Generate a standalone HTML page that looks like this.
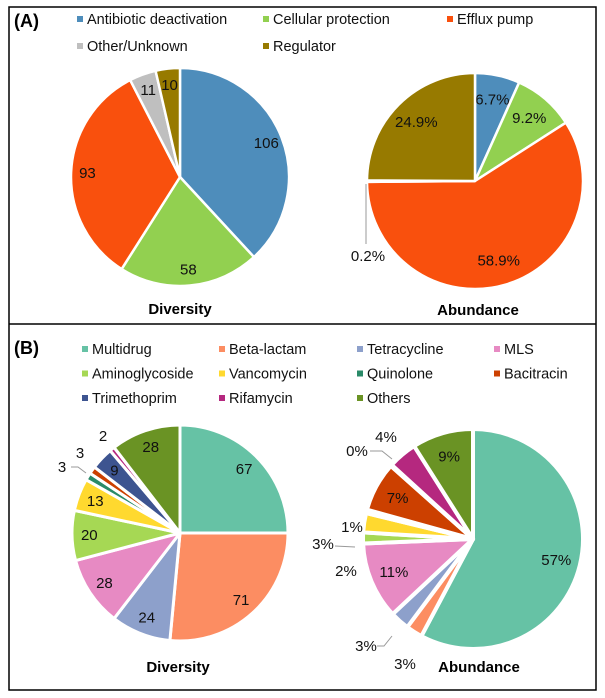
<!DOCTYPE html>
<html><head><meta charset="utf-8"><style>
body{margin:0;background:#fff}
svg{display:block;font-family:"Liberation Sans",Arial,sans-serif}
</style></head><body>
<svg id="fig" width="605" height="698" viewBox="0 0 605 698">
<rect x="9" y="7" width="587" height="683" fill="none" stroke="#000" stroke-width="1.5"/>
<line x1="9" y1="324" x2="596" y2="324" stroke="#000" stroke-width="1.5"/>
<text x="14" y="27" font-size="18" font-weight="bold">(A)</text>
<text x="14" y="354" font-size="18" font-weight="bold">(B)</text>
<g id="legA"></g>
<g id="legB"></g>
<g id="pies"></g>
<text x="180" y="314" font-size="15" font-weight="bold" text-anchor="middle">Diversity</text>
<text x="478" y="315" font-size="15" font-weight="bold" text-anchor="middle">Abundance</text>
<text x="178" y="672" font-size="15" font-weight="bold" text-anchor="middle">Diversity</text>
<text x="479" y="672" font-size="15" font-weight="bold" text-anchor="middle">Abundance</text>
</svg>
<script>
const catsA = ["Antibiotic deactivation","Cellular protection","Efflux pump","Other/Unknown","Regulator"];
const colorsA = ["#4e8dbb","#92d050","#f9500d","#bfbfbf","#977a00"];
const divA = [106,58,93,11,10];
const abuA = [6.7,9.2,58.9,0.2,24.9];
const abuALabels = ["6.7%","9.2%","58.9%","0.2%","24.9%"];
const catsB = ["Multidrug","Beta-lactam","Tetracycline","MLS","Aminoglycoside","Vancomycin","Quinolone","Bacitracin","Trimethoprim","Rifamycin","Others"];
const colorsB = ["#66c2a5","#fc8d62","#8da0cb","#e78ac3","#a6d854","#ffd92f","#2a8a68","#cc4000","#3d5490","#b5287f","#6a9324"];
const divB = [67,71,24,28,20,13,3,3,9,2,28];
const abuB = [57.2,2.4,2.8,11.2,1.6,2.8,0.5,7.2,0.2,4.2,8.9];
const abuBLabels = ["57%","3%","3%","11%","2%","3%","1%","7%","0%","4%","9%"];

const NS="http://www.w3.org/2000/svg";
function mk(tag,attrs,parent){const e=document.createElementNS(NS,tag);for(const k in attrs)e.setAttribute(k,attrs[k]);parent.appendChild(e);return e;}

// legends
const legA=document.getElementById('legA');
const legAx=[77,263,447];
catsA.forEach((c,i)=>{
  const x=legAx[i%3], y=21+Math.floor(i/3)*27;
  const r=mk('rect',{x:x,y:y-5,width:6,height:6,fill:colorsA[i]},legA);
  
  
  const t=mk('text',{x:x+10,y:y+3,'font-size':14.5,fill:'#111'},legA);
  t.textContent=c;
  
  
});
const legB=document.getElementById('legB');
const legBx=[82,219,357,494];
catsB.forEach((c,i)=>{
  const x=legBx[i%4], y=351+Math.floor(i/4)*24.5;
  const r=mk('rect',{x:x,y:y-5,width:6,height:6,fill:colorsB[i]},legB);
  
  
  const t=mk('text',{x:x+10,y:y+3,'font-size':14.5,fill:'#111'},legB);
  t.textContent=c;
  
  
});

const pies=document.getElementById('pies');
function pt(cx,cy,r,a){return [cx+r*Math.sin(a),cy-r*Math.cos(a)];}
function drawPie(name,vals,colors,labels,cx,cy,R,k,gap,outside){
  const g=mk('g',{},pies);
  
  
  const tot=vals.reduce((a,b)=>a+b,0);
  let a0=0;
  vals.forEach((v,i)=>{
    const a1=a0+v/tot*2*Math.PI;
    const p0=pt(cx,cy,R,a0),p1=pt(cx,cy,R,a1);
    const large=(a1-a0)>Math.PI?1:0;
    const p=mk('path',{d:`M${cx},${cy}L${p0[0]},${p0[1]}A${R},${R} 0 ${large} 1 ${p1[0]},${p1[1]}Z`,fill:colors[i],stroke:'#fff','stroke-width':gap,'stroke-linejoin':'round'},g);
    
    
    if(!outside[i]){
      const m=(a0+a1)/2;const q=pt(cx,cy,R*k,m);
      const t=mk('text',{x:q[0],y:q[1]+5,'font-size':15,'text-anchor':'middle',fill:'#111'},g);
      t.textContent=labels[i];
      
      
    }
    a0=a1;
  });
}
drawPie('a-diversity-pie',divA,colorsA,divA.map(String),180,177,109,0.85,2.5,[0,0,0,0,0]);
drawPie('a-abundance-pie',abuA,colorsA,abuALabels,475,181,108,0.77,2.5,[0,0,0,1,0]);
drawPie('b-diversity-pie',divB,colorsB,divB.map(String),180,533,108,0.84,3,[0,0,0,0,0,0,1,1,0,1,0]);
drawPie('b-abundance-pie',abuB,colorsB,abuBLabels,473,539,110,0.78,4,[0,1,1,0,1,1,1,0,1,1,0]);

// outside labels & leaders
const ext=[
 ['a-abund-label-0.2','0.2%',368,261],
 ['b-div-label-quinolone','3',62,472],
 ['b-div-label-bacitracin','3',80,458],
 ['b-div-label-rifamycin','2',103,441],
 ['b-abund-label-rifamycin','4%',386,442],
 ['b-abund-label-trimethoprim','0%',357,456],
 ['b-abund-label-quinolone','1%',352,532],
 ['b-abund-label-vancomycin','3%',323,549],
 ['b-abund-label-aminoglycoside','2%',346,576],
 ['b-abund-label-tetracycline','3%',366,651],
 ['b-abund-label-beta-lactam','3%',405,669]
];
ext.forEach(e=>{
  const t=mk('text',{x:e[2],y:e[3],'font-size':15,'text-anchor':'middle',fill:'#111'},pies);
  t.textContent=e[1];
  
  
});
const leaders=["M366,184L366,244","M71,467L78,467L86,473","M370,451L382,451L392,459","M335,546L355,547","M377,646L384,646L392,636"];
leaders.forEach(d=>{
  const l=mk('path',{d:d,fill:'none',stroke:'#999','stroke-width':1},pies);
  
  
});
</script>
</body></html>
